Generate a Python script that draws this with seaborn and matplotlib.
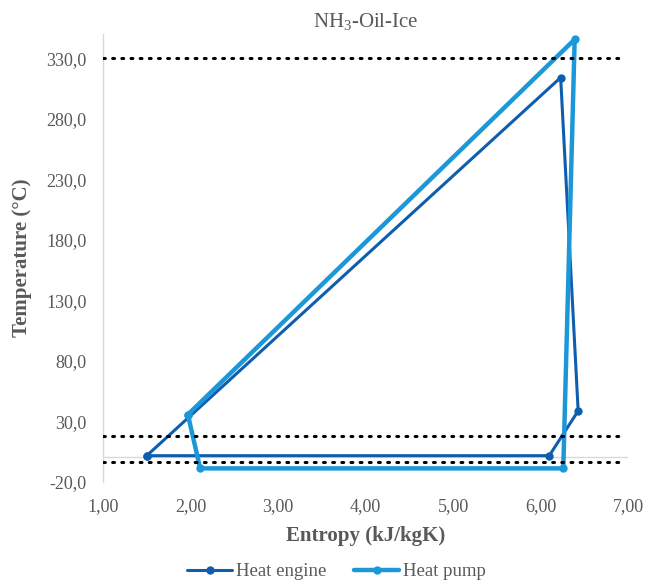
import matplotlib
matplotlib.use("Agg")
import matplotlib.pyplot as plt
import seaborn as sns

# Heat engine cycle (closed loop)
engine_s = [1.50, 6.10, 6.43, 6.23, 1.50]
engine_t = [1.5, 1.5, 38.5, 314.0, 1.5]

# Heat pump cycle (closed loop)
pump_s = [1.97, 6.39, 6.26, 2.11, 1.97]
pump_t = [35.5, 345.5, -9.0, -9.0, 35.5]

# dotted reference temperatures
ref_temps = [330.0, 17.5, -4.0]

x_ticks = [1, 2, 3, 4, 5, 6, 7]
y_ticks = [-20, 30, 80, 130, 180, 230, 280, 330]

sns.set_style("white")
plt.rcParams["font.family"] = ["Liberation Serif", "DejaVu Serif"]
plt.rcParams["mathtext.fontset"] = "custom"
plt.rcParams["mathtext.rm"] = "Liberation Serif"
plt.rcParams["mathtext.it"] = "Liberation Serif:italic"
plt.rcParams["mathtext.bf"] = "Liberation Serif:bold"
grey = "#595959"
c_engine = "#0F5EAE"
c_pump = "#1C98D8"

fig = plt.figure(figsize=(6.49, 5.86), dpi=100)
ax = fig.add_axes([0.1587, 0.178, 0.809, 0.764])

ax.axhline(0, color="#D9D9D9", lw=1, zorder=1)

sns.lineplot(x=engine_s, y=engine_t, sort=False, estimator=None, color=c_engine,
             lw=2.2, marker="o", markersize=6, markeredgewidth=0, ax=ax,
             label="Heat engine", zorder=3)
sns.lineplot(x=pump_s, y=pump_t, sort=False, estimator=None, color=c_pump,
             lw=3.2, marker="o", markersize=6, markeredgewidth=0, ax=ax,
             label="Heat pump", zorder=4)

for t in ref_temps:
    ax.axhline(t, xmax=0.99, color="black", lw=2.2, ls=(0, (0.6, 2.4)),
               dash_capstyle="round", zorder=5)

ax.set_xlim(1, 7)
ax.set_ylim(-20, 350)
ax.set_xticks(x_ticks)
ax.set_xticklabels([f"{v:.2f}".replace(".", ",") for v in x_ticks])
ax.set_yticks(y_ticks)
ax.set_yticklabels([f"{v:.1f}".replace(".", ",") for v in y_ticks])
ax.tick_params(axis="both", length=0, labelsize=13, labelcolor=grey)
ax.tick_params(axis="x", pad=12)
ax.tick_params(axis="y", pad=12)

for side in ["top", "right", "bottom"]:
    ax.spines[side].set_visible(False)
ax.spines["left"].set_color("#D9D9D9")
ax.spines["left"].set_linewidth(1)

ax.set_title("NH$_\\mathrm{3}$-Oil-Ice", fontsize=15, color=grey, pad=5)
ax.set_xlabel("Entropy (kJ/kgK)", fontsize=15, color=grey, fontweight="bold", labelpad=8)
ax.set_ylabel("Temperature (°C)", fontsize=15, color=grey, fontweight="bold", labelpad=10)

ax.legend(loc="center", bbox_to_anchor=(0.445, -0.201), ncol=2, frameon=False,
          fontsize=13.5, labelcolor=grey, handlelength=2.4, handletextpad=0.2,
          columnspacing=1.5, borderaxespad=0, borderpad=0)

fig.savefig("out.png", dpi=100)
